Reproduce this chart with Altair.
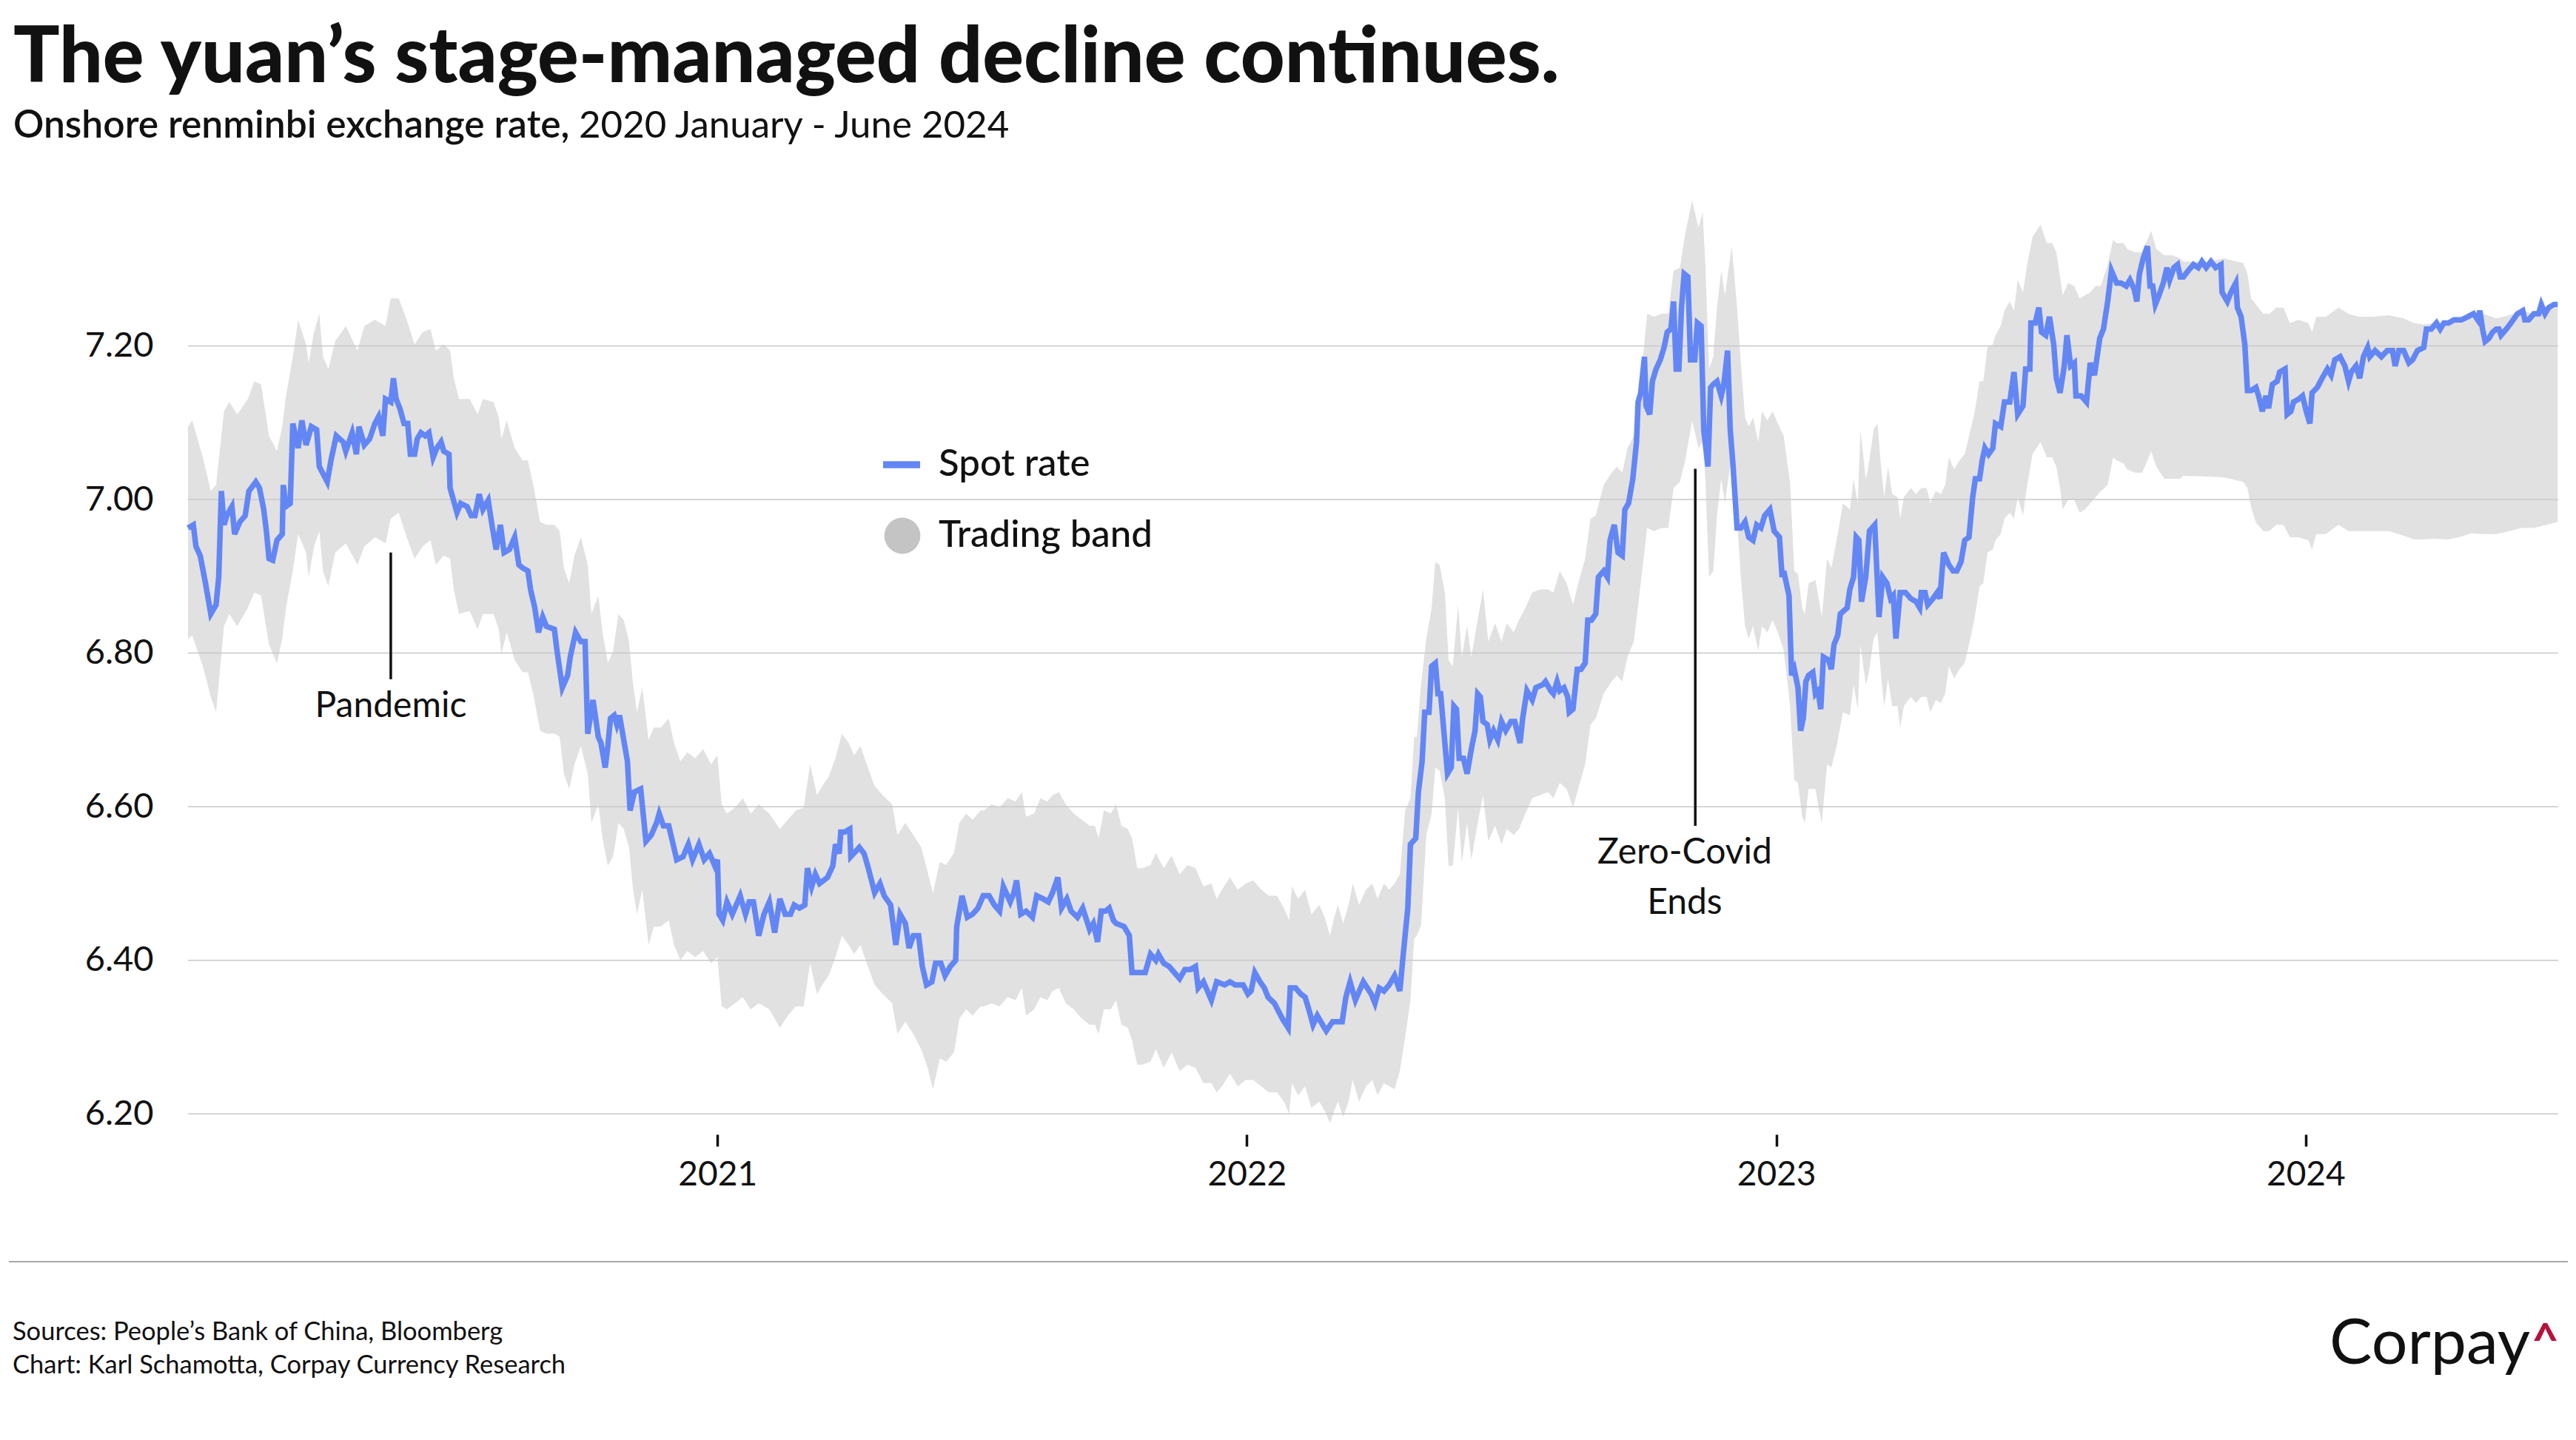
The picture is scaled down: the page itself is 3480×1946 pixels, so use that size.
import altair as alt
import pandas as pd

# ---------------- data ----------------
# Onshore spot rate (x in decimal years)
spot_year = [
    2020.000, 2020.010, 2020.015, 2020.023, 2020.033, 2020.043, 2020.053, 2020.058, 2020.063, 2020.068,
    2020.073, 2020.083, 2020.088, 2020.098, 2020.108, 2020.115, 2020.128, 2020.135, 2020.143, 2020.148,
    2020.153, 2020.160, 2020.168, 2020.178, 2020.180, 2020.185, 2020.193, 2020.198, 2020.208, 2020.215,
    2020.223, 2020.233, 2020.243, 2020.248, 2020.263, 2020.270, 2020.280, 2020.293, 2020.298, 2020.310,
    2020.318, 2020.323, 2020.333, 2020.343, 2020.353, 2020.360, 2020.368, 2020.373, 2020.383, 2020.388,
    2020.393, 2020.400, 2020.408, 2020.415, 2020.420, 2020.428, 2020.433, 2020.440, 2020.448, 2020.455,
    2020.463, 2020.470, 2020.478, 2020.483, 2020.493, 2020.495, 2020.508, 2020.515, 2020.527, 2020.535,
    2020.542, 2020.550, 2020.557, 2020.567, 2020.575, 2020.582, 2020.590, 2020.597, 2020.607, 2020.617,
    2020.625, 2020.632, 2020.642, 2020.647, 2020.655, 2020.662, 2020.670, 2020.677, 2020.692, 2020.697,
    2020.707, 2020.717, 2020.722, 2020.732, 2020.742, 2020.750, 2020.755, 2020.765, 2020.775,
    2020.780, 2020.788, 2020.793, 2020.798, 2020.805, 2020.810, 2020.815, 2020.823, 2020.830, 2020.835,
    2020.843, 2020.855, 2020.865, 2020.875, 2020.885, 2020.890, 2020.898, 2020.908, 2020.915, 2020.923,
    2020.935, 2020.945, 2020.953, 2020.965, 2020.975, 2020.985, 2020.995, 2021.000, 2021.003, 2021.010,
    2021.018, 2021.028, 2021.043, 2021.053, 2021.060, 2021.068, 2021.078, 2021.088, 2021.098, 2021.108,
    2021.118, 2021.128, 2021.138, 2021.145, 2021.155, 2021.165, 2021.170, 2021.178, 2021.185, 2021.193,
    2021.208, 2021.218, 2021.223, 2021.230, 2021.233, 2021.240, 2021.250, 2021.252, 2021.268, 2021.277,
    2021.285, 2021.297, 2021.307, 2021.315, 2021.327, 2021.337, 2021.345, 2021.355, 2021.362, 2021.370,
    2021.380, 2021.387, 2021.395, 2021.405, 2021.412, 2021.422, 2021.430, 2021.440, 2021.450, 2021.452,
    2021.462, 2021.472, 2021.482, 2021.492, 2021.502,
    2021.513, 2021.523, 2021.533, 2021.540, 2021.553, 2021.560, 2021.565, 2021.573, 2021.583, 2021.595,
    2021.603, 2021.615, 2021.625, 2021.633, 2021.643, 2021.650, 2021.660, 2021.668, 2021.680, 2021.690,
    2021.703, 2021.710, 2021.718, 2021.725, 2021.733, 2021.740, 2021.748, 2021.753, 2021.768, 2021.778,
    2021.783, 2021.795, 2021.808, 2021.818, 2021.828, 2021.833, 2021.843, 2021.853, 2021.863, 2021.873,
    2021.883, 2021.893, 2021.903, 2021.908, 2021.918, 2021.933, 2021.943, 2021.958, 2021.968, 2021.978,
    2021.993, 2022.002, 2022.008, 2022.015, 2022.025, 2022.033, 2022.040, 2022.052, 2022.067, 2022.078,
    2022.082, 2022.092, 2022.102, 2022.110, 2022.117, 2022.125, 2022.133, 2022.143, 2022.150, 2022.162,
    2022.180, 2022.187, 2022.195, 2022.205, 2022.220, 2022.235, 2022.242, 2022.250,
    2022.259, 2022.269, 2022.279, 2022.289, 2022.296, 2022.304, 2022.309, 2022.319, 2022.324, 2022.331,
    2022.336, 2022.344, 2022.349, 2022.356, 2022.361, 2022.366, 2022.371, 2022.379, 2022.386, 2022.391,
    2022.396, 2022.401, 2022.409, 2022.416, 2022.424, 2022.431, 2022.436, 2022.441, 2022.446, 2022.454,
    2022.459, 2022.466, 2022.474, 2022.481, 2022.489, 2022.499, 2022.506, 2022.516, 2022.521, 2022.529,
    2022.539, 2022.546, 2022.559, 2022.564, 2022.574, 2022.579, 2022.586, 2022.591, 2022.599, 2022.606,
    2022.609, 2022.616, 2022.624, 2022.631, 2022.639, 2022.644, 2022.651, 2022.659, 2022.664, 2022.674,
    2022.681, 2022.686, 2022.694, 2022.701, 2022.709, 2022.714, 2022.721, 2022.729, 2022.736, 2022.739,
    2022.744, 2022.751, 2022.754, 2022.761, 2022.766, 2022.773, 2022.781, 2022.788, 2022.794, 2022.801,
    2022.806, 2022.811, 2022.816, 2022.821, 2022.826, 2022.833, 2022.838, 2022.846, 2022.851, 2022.858,
    2022.863, 2022.871, 2022.876, 2022.881, 2022.888, 2022.896, 2022.901, 2022.908, 2022.913, 2022.918,
    2022.926, 2022.933, 2022.941, 2022.948, 2022.956, 2022.963, 2022.971, 2022.978, 2022.988, 2022.996,
    2023.006, 2023.011,
    2023.014, 2023.024, 2023.029, 2023.034, 2023.041, 2023.046, 2023.051, 2023.056, 2023.061, 2023.069,
    2023.074, 2023.079, 2023.084, 2023.089, 2023.099, 2023.104, 2023.109, 2023.116, 2023.121, 2023.134,
    2023.139, 2023.146, 2023.151, 2023.156, 2023.161, 2023.169, 2023.176, 2023.186, 2023.194, 2023.201,
    2023.209, 2023.216, 2023.221, 2023.226, 2023.234, 2023.244, 2023.254, 2023.264, 2023.271, 2023.274,
    2023.281, 2023.286, 2023.296, 2023.304, 2023.309, 2023.316, 2023.326, 2023.334, 2023.341, 2023.349,
    2023.356, 2023.364, 2023.371, 2023.376, 2023.384, 2023.389, 2023.394, 2023.401, 2023.409, 2023.414,
    2023.424, 2023.431, 2023.441, 2023.449, 2023.456, 2023.466, 2023.471, 2023.479, 2023.481, 2023.489,
    2023.496, 2023.501, 2023.509, 2023.516, 2023.524, 2023.529, 2023.536, 2023.544, 2023.549, 2023.556,
    2023.563, 2023.566, 2023.576, 2023.586, 2023.593, 2023.601, 2023.611, 2023.618, 2023.626, 2023.633,
    2023.643, 2023.651, 2023.661, 2023.668, 2023.676, 2023.681, 2023.686, 2023.693, 2023.701, 2023.706,
    2023.711, 2023.716, 2023.723, 2023.731, 2023.738, 2023.743, 2023.751, 2023.758, 2023.763,
    2023.769, 2023.778, 2023.788, 2023.797, 2023.804, 2023.812, 2023.821, 2023.830, 2023.840, 2023.842,
    2023.852, 2023.859, 2023.868, 2023.871, 2023.878, 2023.885, 2023.890, 2023.897, 2023.906, 2023.911,
    2023.918, 2023.925, 2023.930, 2023.937, 2023.946, 2023.951, 2023.961, 2023.965, 2023.972, 2023.977,
    2023.987, 2023.994, 2024.001, 2024.008, 2024.012, 2024.022, 2024.031, 2024.041, 2024.048, 2024.055,
    2024.065, 2024.074, 2024.081, 2024.086, 2024.095, 2024.102, 2024.109, 2024.117, 2024.121, 2024.131,
    2024.143, 2024.154, 2024.164, 2024.169, 2024.176, 2024.185, 2024.195, 2024.202, 2024.211, 2024.223,
    2024.228, 2024.237, 2024.247, 2024.254, 2024.261, 2024.270, 2024.280, 2024.294, 2024.306, 2024.317,
    2024.325, 2024.329, 2024.334, 2024.339, 2024.346, 2024.353, 2024.360, 2024.365, 2024.369, 2024.379,
    2024.388, 2024.400, 2024.410, 2024.414, 2024.421, 2024.431, 2024.440, 2024.445, 2024.452, 2024.459,
    2024.469, 2024.476,
]
spot_rate = [
    6.963, 6.967, 6.939, 6.927, 6.891, 6.851, 6.863, 6.899, 7.011, 6.967,
    6.979, 6.991, 6.955, 6.971, 6.979, 7.011, 7.023, 7.015, 6.987, 6.959,
    6.923, 6.921, 6.947, 6.955, 7.019, 6.991, 6.995, 7.099, 7.067, 7.103,
    7.071, 7.095, 7.091, 7.043, 7.023, 7.051, 7.083, 7.075, 7.063, 7.087,
    7.059, 7.095, 7.071, 7.079, 7.099, 7.108, 7.083, 7.131, 7.127, 7.158,
    7.131, 7.119, 7.099, 7.099, 7.059, 7.059, 7.079, 7.087, 7.083, 7.087,
    7.055, 7.067, 7.075, 7.063, 7.059, 7.015, 6.983, 6.995, 6.991, 6.979,
    6.979, 7.007, 6.987, 6.999, 6.963, 6.935, 6.967, 6.931, 6.935, 6.951,
    6.915, 6.911, 6.907, 6.883, 6.859, 6.827, 6.847, 6.835, 6.831, 6.803,
    6.755, 6.771, 6.795, 6.827, 6.815, 6.815, 6.695, 6.739, 6.691,
    6.683, 6.651, 6.679, 6.715, 6.719, 6.707, 6.719, 6.687, 6.659, 6.595,
    6.619, 6.623, 6.555, 6.563, 6.579, 6.591, 6.575, 6.575, 6.555, 6.531,
    6.535, 6.551, 6.531, 6.551, 6.531, 6.539, 6.523, 6.531, 6.460, 6.452,
    6.476, 6.460, 6.484, 6.460, 6.476, 6.476, 6.432, 6.460, 6.476, 6.436,
    6.480, 6.460, 6.460, 6.472, 6.468, 6.472, 6.520, 6.496, 6.512, 6.500,
    6.508, 6.523, 6.551, 6.539, 6.567, 6.567, 6.571, 6.535, 6.547, 6.539,
    6.520, 6.488, 6.500, 6.484, 6.472, 6.420, 6.460, 6.448, 6.416, 6.432,
    6.432, 6.392, 6.368, 6.372, 6.396, 6.396, 6.380, 6.392, 6.400, 6.444,
    6.484, 6.456, 6.460, 6.468, 6.484,
    6.484, 6.472, 6.464, 6.496, 6.476, 6.488, 6.504, 6.460, 6.464, 6.456,
    6.484, 6.480, 6.476, 6.488, 6.508, 6.468, 6.480, 6.464, 6.456, 6.468,
    6.440, 6.448, 6.424, 6.464, 6.464, 6.468, 6.452, 6.448, 6.444, 6.432,
    6.384, 6.384, 6.384, 6.408, 6.400, 6.408, 6.396, 6.392, 6.384, 6.376,
    6.388, 6.388, 6.392, 6.364, 6.372, 6.348, 6.372, 6.368, 6.372, 6.368,
    6.368, 6.356, 6.360, 6.384, 6.372, 6.364, 6.352, 6.344, 6.324, 6.312,
    6.364, 6.364, 6.356, 6.352, 6.336, 6.316, 6.328, 6.316, 6.308, 6.320,
    6.320, 6.352, 6.372, 6.348, 6.372, 6.356, 6.344, 6.364,
    6.360, 6.368, 6.380, 6.360, 6.412, 6.468, 6.551, 6.559, 6.619, 6.659,
    6.723, 6.723, 6.783, 6.787, 6.747, 6.747, 6.707, 6.643, 6.651, 6.731,
    6.727, 6.663, 6.663, 6.643, 6.675, 6.699, 6.747, 6.743, 6.711, 6.707,
    6.687, 6.699, 6.687, 6.711, 6.699, 6.711, 6.711, 6.683, 6.715, 6.751,
    6.739, 6.755, 6.759, 6.763, 6.751, 6.747, 6.763, 6.751, 6.755, 6.743,
    6.723, 6.727, 6.779, 6.779, 6.787, 6.843, 6.843, 6.851, 6.899, 6.907,
    6.899, 6.947, 6.967, 6.931, 6.927, 6.987, 6.995, 7.027, 7.075, 7.127,
    7.139, 7.186, 7.122, 7.111, 7.154, 7.170, 7.182, 7.198, 7.218, 7.222,
    7.258, 7.170, 7.170, 7.250, 7.294, 7.290, 7.182, 7.182, 7.230, 7.226,
    7.091, 7.043, 7.146, 7.150, 7.154, 7.135, 7.150, 7.194, 7.091, 7.047,
    6.963, 6.963, 6.971, 6.951, 6.947, 6.967, 6.963, 6.979, 6.987, 6.959,
    6.951, 6.899,
    6.907, 6.875, 6.771, 6.779, 6.755, 6.699, 6.715, 6.763, 6.771, 6.775,
    6.747, 6.751, 6.727, 6.795, 6.791, 6.779, 6.811, 6.823, 6.851, 6.859,
    6.883, 6.899, 6.951, 6.947, 6.867, 6.899, 6.959, 6.967, 6.847, 6.899,
    6.891, 6.871, 6.875, 6.819, 6.879, 6.879, 6.871, 6.867, 6.859, 6.879,
    6.879, 6.863, 6.871, 6.879, 6.871, 6.931, 6.915, 6.907, 6.907, 6.919,
    6.947, 6.951, 7.003, 7.027, 7.027, 7.051, 7.067, 7.059, 7.067, 7.099,
    7.095, 7.127, 7.127, 7.166, 7.111, 7.122, 7.170, 7.170, 7.230, 7.230,
    7.250, 7.218, 7.214, 7.238, 7.202, 7.158, 7.139, 7.174, 7.214, 7.174,
    7.178, 7.135, 7.135, 7.127, 7.178, 7.162, 7.210, 7.222, 7.258, 7.298,
    7.282, 7.282, 7.278, 7.286, 7.274, 7.258, 7.294, 7.314, 7.330, 7.278,
    7.278, 7.254, 7.266, 7.282, 7.302, 7.286, 7.302, 7.306, 7.290,
    7.290, 7.298, 7.306, 7.302, 7.310, 7.302, 7.310, 7.302, 7.306, 7.270,
    7.258, 7.270, 7.282, 7.250, 7.238, 7.202, 7.142, 7.142, 7.146, 7.135,
    7.115, 7.135, 7.119, 7.150, 7.154, 7.166, 7.170, 7.111, 7.115, 7.127,
    7.131, 7.135, 7.115, 7.099, 7.139, 7.146, 7.158, 7.170, 7.162, 7.182,
    7.186, 7.174, 7.154, 7.166, 7.174, 7.158, 7.186, 7.198, 7.186, 7.194,
    7.186, 7.194, 7.194, 7.174, 7.194, 7.194, 7.178, 7.182, 7.194, 7.198,
    7.222, 7.222, 7.230, 7.222, 7.230, 7.230, 7.234, 7.234, 7.238, 7.242,
    7.234, 7.246, 7.222, 7.206, 7.210, 7.218, 7.222, 7.222, 7.214, 7.222,
    7.230, 7.242, 7.246, 7.234, 7.234, 7.242, 7.242, 7.254, 7.242, 7.250,
    7.254, 7.254,
]

# Trading band (upper / lower edge)
band_year = [
    2020.000, 2020.008, 2020.028, 2020.043, 2020.053, 2020.068, 2020.078, 2020.093, 2020.113, 2020.125,
    2020.138, 2020.153, 2020.168, 2020.178, 2020.185, 2020.198, 2020.208, 2020.223, 2020.228, 2020.238,
    2020.248, 2020.255, 2020.265, 2020.278, 2020.298, 2020.320, 2020.333, 2020.353, 2020.373, 2020.383,
    2020.398, 2020.413, 2020.428, 2020.443, 2020.458, 2020.468, 2020.483, 2020.495, 2020.502, 2020.512,
    2020.532, 2020.547, 2020.557, 2020.577, 2020.587, 2020.592, 2020.602, 2020.617, 2020.632, 2020.642,
    2020.652, 2020.665, 2020.677, 2020.692, 2020.702, 2020.710, 2020.720, 2020.730, 2020.742, 2020.755,
    2020.762, 2020.775,
    2020.783, 2020.793, 2020.803, 2020.813, 2020.823, 2020.833, 2020.840, 2020.848, 2020.858, 2020.870,
    2020.880, 2020.893, 2020.908, 2020.918, 2020.930, 2020.943, 2020.958, 2020.973, 2020.988, 2021.000,
    2021.008, 2021.018, 2021.033, 2021.048, 2021.063, 2021.078, 2021.098, 2021.118, 2021.133, 2021.148,
    2021.163, 2021.175, 2021.188, 2021.198, 2021.210, 2021.223, 2021.235, 2021.248, 2021.258, 2021.270,
    2021.282, 2021.297, 2021.312, 2021.330, 2021.340, 2021.355, 2021.370, 2021.385, 2021.397, 2021.407,
    2021.420, 2021.432, 2021.447, 2021.457, 2021.470, 2021.482, 2021.497,
    2021.503, 2021.518, 2021.533, 2021.548, 2021.563, 2021.575, 2021.583, 2021.598, 2021.610, 2021.623,
    2021.633, 2021.645, 2021.658, 2021.673, 2021.688, 2021.703, 2021.713, 2021.720, 2021.730, 2021.743,
    2021.753, 2021.763, 2021.775, 2021.783, 2021.793, 2021.803, 2021.818, 2021.828, 2021.843, 2021.858,
    2021.873, 2021.888, 2021.903, 2021.918, 2021.933, 2021.943, 2021.953, 2021.968, 2021.983, 2021.998,
    2022.012, 2022.027, 2022.042, 2022.057, 2022.070, 2022.080, 2022.085, 2022.097, 2022.110, 2022.122,
    2022.137, 2022.147, 2022.157, 2022.165, 2022.172, 2022.182, 2022.192, 2022.200, 2022.212, 2022.225,
    2022.237, 2022.247,
    2022.259, 2022.269, 2022.279, 2022.289, 2022.299, 2022.309, 2022.316, 2022.321, 2022.329, 2022.339,
    2022.349, 2022.356, 2022.364, 2022.374, 2022.381, 2022.389, 2022.399, 2022.406, 2022.416, 2022.424,
    2022.434, 2022.446, 2022.456, 2022.469, 2022.481, 2022.491, 2022.504, 2022.514, 2022.526, 2022.539,
    2022.554, 2022.569, 2022.579, 2022.591, 2022.604, 2022.616, 2022.629, 2022.639, 2022.649, 2022.659,
    2022.674, 2022.689, 2022.699, 2022.709, 2022.719, 2022.731, 2022.744, 2022.756, 2022.769, 2022.783,
    2022.796, 2022.806, 2022.818, 2022.828, 2022.841, 2022.853, 2022.861, 2022.866, 2022.873, 2022.881,
    2022.888, 2022.896, 2022.903, 2022.916, 2022.926, 2022.933, 2022.941, 2022.948, 2022.956, 2022.966,
    2022.973, 2022.983, 2022.993, 2023.003,
    2023.014, 2023.021, 2023.026, 2023.034, 2023.041, 2023.049, 2023.054, 2023.061, 2023.074, 2023.081,
    2023.086, 2023.096, 2023.104, 2023.114, 2023.126, 2023.139, 2023.146, 2023.154, 2023.159, 2023.169,
    2023.174, 2023.184, 2023.191, 2023.199, 2023.204, 2023.211, 2023.219, 2023.229, 2023.234, 2023.241,
    2023.254, 2023.264, 2023.274, 2023.284, 2023.291, 2023.301, 2023.311, 2023.319, 2023.326, 2023.336,
    2023.346, 2023.356, 2023.364, 2023.374, 2023.384, 2023.391, 2023.399, 2023.409, 2023.414, 2023.424,
    2023.431, 2023.441, 2023.449, 2023.456, 2023.466, 2023.474, 2023.484, 2023.499, 2023.511, 2023.521,
    2023.529, 2023.536, 2023.541, 2023.551, 2023.563, 2023.573, 2023.583, 2023.593, 2023.603, 2023.613,
    2023.626, 2023.636, 2023.643, 2023.656, 2023.663, 2023.678, 2023.691, 2023.701, 2023.708, 2023.718,
    2023.733, 2023.748, 2023.763,
    2023.769, 2023.816, 2023.845, 2023.882, 2023.890, 2023.897, 2023.906, 2023.920, 2023.932, 2023.944,
    2023.958, 2023.970, 2023.986, 2024.005, 2024.012, 2024.020, 2024.038, 2024.062, 2024.081, 2024.100,
    2024.128, 2024.157, 2024.185, 2024.204, 2024.223, 2024.242, 2024.270, 2024.289, 2024.313, 2024.336,
    2024.360, 2024.384, 2024.407, 2024.431, 2024.455, 2024.476,
]
band_upper = [
    7.095, 7.103, 7.055, 7.011, 7.019, 7.115, 7.127, 7.111, 7.131, 7.154,
    7.150, 7.083, 7.063, 7.095, 7.135, 7.186, 7.234, 7.202, 7.178, 7.218,
    7.242, 7.186, 7.170, 7.206, 7.226, 7.194, 7.226, 7.234, 7.226, 7.262,
    7.262, 7.234, 7.202, 7.218, 7.222, 7.194, 7.202, 7.194, 7.158, 7.131,
    7.131, 7.111, 7.131, 7.127, 7.107, 7.079, 7.103, 7.067, 7.051, 7.051,
    7.019, 6.971, 6.967, 6.967, 6.959, 6.911, 6.891, 6.927, 6.951, 6.915,
    6.851, 6.875,
    6.827, 6.787, 6.803, 6.851, 6.843, 6.815, 6.763, 6.723, 6.755, 6.687,
    6.703, 6.703, 6.715, 6.683, 6.659, 6.671, 6.663, 6.675, 6.655, 6.667,
    6.603, 6.591, 6.599, 6.611, 6.591, 6.603, 6.591, 6.571, 6.583, 6.595,
    6.599, 6.655, 6.615, 6.627, 6.639, 6.663, 6.695, 6.683, 6.667, 6.679,
    6.655, 6.627, 6.615, 6.603, 6.563, 6.579, 6.563, 6.547, 6.515, 6.488,
    6.528, 6.524, 6.540, 6.579, 6.591, 6.583, 6.595,
    6.595, 6.603, 6.599, 6.611, 6.607, 6.619, 6.587, 6.591, 6.611, 6.607,
    6.615, 6.619, 6.603, 6.591, 6.583, 6.575, 6.575, 6.559, 6.595, 6.591,
    6.603, 6.575, 6.571, 6.559, 6.520, 6.520, 6.524, 6.540, 6.520, 6.536,
    6.512, 6.524, 6.520, 6.496, 6.500, 6.480, 6.492, 6.508, 6.492, 6.500,
    6.504, 6.492, 6.484, 6.484, 6.468, 6.452, 6.496, 6.480, 6.492, 6.460,
    6.472, 6.456, 6.432, 6.456, 6.472, 6.448, 6.472, 6.500, 6.472, 6.492,
    6.500, 6.480,
    6.500, 6.492, 6.500, 6.512, 6.595, 6.611, 6.691, 6.691, 6.760, 6.819,
    6.859, 6.919, 6.915, 6.879, 6.791, 6.783, 6.863, 6.795, 6.835, 6.795,
    6.835, 6.883, 6.815, 6.839, 6.815, 6.839, 6.827, 6.843, 6.859, 6.879,
    6.883, 6.883, 6.879, 6.907, 6.891, 6.863, 6.899, 6.923, 6.975, 6.979,
    7.019, 7.035, 7.043, 7.035, 7.067, 7.083, 7.154, 7.242, 7.238, 7.242,
    7.242, 7.298, 7.302, 7.346, 7.390, 7.354, 7.374, 7.306, 7.170, 7.186,
    7.250, 7.298, 7.266, 7.330, 7.250, 7.178, 7.107, 7.095, 7.107, 7.075,
    7.115, 7.103, 7.115, 7.099,
    7.083, 7.047, 7.023, 6.907, 6.903, 6.859, 6.851, 6.891, 6.895, 6.867,
    6.847, 6.923, 6.911, 6.947, 6.995, 6.987, 7.027, 6.995, 7.091, 7.027,
    7.043, 7.091, 7.099, 7.035, 7.003, 7.043, 7.007, 7.003, 6.975, 7.003,
    7.015, 7.007, 7.015, 7.015, 6.995, 7.011, 7.007, 7.019, 7.055, 7.039,
    7.051, 7.059, 7.083, 7.111, 7.154, 7.154, 7.198, 7.202, 7.214, 7.226,
    7.246, 7.258, 7.246, 7.286, 7.270, 7.306, 7.342, 7.358, 7.334, 7.334,
    7.322, 7.290, 7.266, 7.282, 7.278, 7.262, 7.266, 7.270, 7.278, 7.278,
    7.306, 7.338, 7.334, 7.334, 7.326, 7.322, 7.322, 7.338, 7.350, 7.326,
    7.318, 7.318, 7.314,
    7.310, 7.310, 7.314, 7.308, 7.294, 7.262, 7.254, 7.242, 7.242, 7.250,
    7.250, 7.230, 7.234, 7.230, 7.218, 7.238, 7.238, 7.250, 7.242, 7.238,
    7.238, 7.240, 7.236, 7.230, 7.228, 7.230, 7.230, 7.233, 7.242, 7.242,
    7.236, 7.240, 7.246, 7.242, 7.246, 7.250,
]
band_lower = [
    6.819, 6.823, 6.783, 6.743, 6.723, 6.835, 6.851, 6.835, 6.859, 6.879,
    6.875, 6.811, 6.787, 6.819, 6.859, 6.907, 6.955, 6.931, 6.899, 6.939,
    6.959, 6.907, 6.887, 6.931, 6.943, 6.915, 6.939, 6.951, 6.943, 6.975,
    6.983, 6.951, 6.923, 6.939, 6.947, 6.915, 6.927, 6.923, 6.883, 6.851,
    6.855, 6.831, 6.851, 6.851, 6.831, 6.799, 6.827, 6.791, 6.775, 6.775,
    6.747, 6.699, 6.695, 6.695, 6.691, 6.643, 6.623, 6.655, 6.679, 6.643,
    6.579, 6.603,
    6.559, 6.523, 6.535, 6.579, 6.571, 6.547, 6.496, 6.460, 6.492, 6.420,
    6.444, 6.444, 6.452, 6.420, 6.400, 6.412, 6.404, 6.412, 6.396, 6.404,
    6.340, 6.336, 6.344, 6.352, 6.336, 6.344, 6.336, 6.312, 6.328, 6.340,
    6.340, 6.396, 6.356, 6.368, 6.380, 6.404, 6.432, 6.420, 6.408, 6.420,
    6.396, 6.368, 6.356, 6.344, 6.304, 6.320, 6.304, 6.284, 6.260, 6.232,
    6.272, 6.268, 6.280, 6.324, 6.336, 6.328, 6.340,
    6.340, 6.344, 6.340, 6.352, 6.348, 6.364, 6.328, 6.336, 6.352, 6.348,
    6.360, 6.364, 6.344, 6.336, 6.324, 6.316, 6.316, 6.304, 6.336, 6.336,
    6.348, 6.316, 6.312, 6.296, 6.264, 6.264, 6.268, 6.284, 6.260, 6.280,
    6.256, 6.264, 6.260, 6.240, 6.240, 6.228, 6.236, 6.252, 6.236, 6.244,
    6.244, 6.236, 6.228, 6.228, 6.216, 6.200, 6.240, 6.224, 6.236, 6.208,
    6.216, 6.204, 6.188, 6.204, 6.216, 6.196, 6.216, 6.244, 6.216, 6.236,
    6.244, 6.224,
    6.240, 6.236, 6.232, 6.256, 6.300, 6.348, 6.428, 6.432, 6.445, 6.563,
    6.591, 6.651, 6.647, 6.611, 6.523, 6.523, 6.599, 6.527, 6.579, 6.531,
    6.571, 6.615, 6.555, 6.575, 6.551, 6.571, 6.563, 6.571, 6.591, 6.611,
    6.615, 6.619, 6.611, 6.631, 6.623, 6.599, 6.631, 6.655, 6.707, 6.715,
    6.747, 6.763, 6.771, 6.763, 6.795, 6.815, 6.891, 6.963, 6.959, 6.963,
    6.963, 7.015, 7.023, 7.051, 7.103, 7.067, 7.075, 7.027, 6.899, 6.907,
    6.979, 7.027, 6.995, 7.059, 6.975, 6.899, 6.835, 6.819, 6.835, 6.803,
    6.835, 6.827, 6.843, 6.827,
    6.803, 6.763, 6.731, 6.635, 6.631, 6.587, 6.579, 6.623, 6.623, 6.595,
    6.579, 6.655, 6.651, 6.679, 6.723, 6.719, 6.759, 6.727, 6.811, 6.759,
    6.771, 6.819, 6.827, 6.763, 6.731, 6.767, 6.731, 6.731, 6.703, 6.731,
    6.743, 6.735, 6.743, 6.743, 6.723, 6.739, 6.735, 6.747, 6.783, 6.767,
    6.779, 6.787, 6.811, 6.843, 6.887, 6.891, 6.931, 6.935, 6.947, 6.955,
    6.975, 6.983, 6.975, 7.003, 6.979, 7.019, 7.059, 7.075, 7.055, 7.055,
    7.043, 7.015, 6.987, 6.999, 6.999, 6.983, 6.987, 6.995, 7.003, 7.011,
    7.019, 7.055, 7.051, 7.047, 7.039, 7.035, 7.035, 7.051, 7.063, 7.043,
    7.027, 7.027, 7.027,
    7.031, 7.030, 7.029, 7.023, 7.015, 6.990, 6.970, 6.959, 6.959, 6.967,
    6.967, 6.951, 6.951, 6.947, 6.935, 6.955, 6.955, 6.967, 6.959, 6.959,
    6.959, 6.959, 6.953, 6.948, 6.948, 6.949, 6.948, 6.951, 6.956, 6.955,
    6.955, 6.959, 6.963, 6.963, 6.967, 6.971,
]

# axis ticks
year_ticks = [2021, 2022, 2023, 2024]
rate_ticks = [6.2, 6.4, 6.6, 6.8, 7.0, 7.2]

# annotations
ann_year = [2020.383, 2022.847]
ann_top = [6.931, 7.040]
ann_bottom = [6.766, 6.575]
label_text = ["Pandemic", "Zero-Covid", "Ends"]
label_year = [2020.383, 2022.827, 2022.827]
label_rate = [6.730, 6.539, 6.474]

# ---------------- chart ----------------
INK = "#111111"
BLUE = "#6386f5"
FONT = "Lato"
W, H = 3202, 1266

xs = alt.Scale(domain=[2020.0, 2024.477], nice=False, zero=False)
ys = alt.Scale(domain=[6.18, 7.40], nice=False, zero=False)

spot_df = pd.DataFrame({"year": spot_year, "rate": spot_rate})
band_df = pd.DataFrame({"year": band_year, "upper": band_upper, "lower": band_lower})
grid_df = pd.DataFrame({"level": rate_ticks})
ann_df = pd.DataFrame({"year": ann_year, "top": ann_top, "bottom": ann_bottom})
lab_df = pd.DataFrame({"year": label_year, "rate": label_rate, "label": label_text})
one = alt.InlineData(values=[{}])

x_axis = alt.Axis(values=year_ticks, format="d", title=None, grid=False, domain=False,
                  ticks=True, tickSize=16, tickWidth=3.5, tickColor=INK, offset=7,
                  labelFont=FONT, labelFontSize=46, labelColor=INK, labelPadding=16)
y_axis = alt.Axis(values=rate_ticks, format=".2f", title=None, grid=False, domain=False,
                  ticks=False, tickSize=0, labelFont=FONT, labelFontSize=47, labelColor=INK,
                  labelPadding=47)


def X(field):
    return alt.X(field, scale=xs, axis=x_axis, title=None)


def Y(field):
    return alt.Y(field, scale=ys, axis=y_axis, title=None)


band = alt.Chart(band_df).mark_area(color="#e1e1e1").encode(
    x=X("year:Q"), y=Y("upper:Q"), y2="lower:Q",
)
grid = alt.Chart(grid_df).mark_rule(color="#c8c8c8", strokeWidth=1.5).encode(
    y=Y("level:Q")
)
line = alt.Chart(spot_df).mark_line(color=BLUE, strokeWidth=7.5).encode(
    x=X("year:Q"), y=Y("rate:Q"),
)
ann_rule = alt.Chart(ann_df).mark_rule(color=INK, strokeWidth=3.5).encode(
    x=X("year:Q"), y=Y("top:Q"), y2="bottom:Q",
)
ann_text = alt.Chart(lab_df).mark_text(font=FONT, fontSize=48, color=INK,
                                       align="center", baseline="middle").encode(
    x=X("year:Q"), y=Y("rate:Q"), text="label:N",
)

# legend
leg_line = alt.Chart(one).mark_rule(color=BLUE, strokeWidth=9.5).encode(
    x=alt.value(939), x2=alt.value(989), y=alt.value(368))
leg_dot = alt.Chart(one).mark_point(filled=True, shape="circle", size=2376,
                                    color="#c4c4c4", opacity=1).encode(
    x=alt.value(965), y=alt.value(464))


def txt(text, x, y, size, weight=400, align="left", color=INK, baseline="alphabetic"):
    return alt.Chart(one).mark_text(text=text, font=FONT, fontSize=size, fontWeight=weight,
                                    align=align, baseline=baseline, color=color).encode(
        x=alt.value(x), y=alt.value(y))


leg_t1 = txt("Spot rate", 1014, 368, 51, 500, baseline="middle")
leg_t2 = txt("Trading band", 1014, 464, 51, 500, baseline="middle")

title = txt("The yuan’s stage-managed decline continues.", -236, -149, 104, 900)
sub1 = txt("Onshore renminbi exchange rate,", -236, -74, 51.5, 600)
sub2 = txt("2020 January - June 2024", 528, -74, 51, 400)

foot_rule = alt.Chart(one).mark_rule(color="#a8a8a8", strokeWidth=2).encode(
    x=alt.value(-242), x2=alt.value(3215), y=alt.value(1445))
foot1 = txt("Sources: People’s Bank of China, Bloomberg", -237, 1551, 34.5)
foot2 = txt("Chart: Karl Schamotta, Corpay Currency Research", -237, 1596, 34.5)
logo = txt("Corpay", 3164, 1583, 86, 400, align="right")
caret = txt("^", 3166, 1574, 64, 700, color="#b5123c")

chart = alt.layer(
    band, grid, line, ann_rule, ann_text,
    leg_line, leg_dot, leg_t1, leg_t2,
    title, sub1, sub2, foot_rule, foot1, foot2, logo, caret,
).properties(
    width=W, height=H,
    autosize=alt.AutoSizeParams(type="none"),
    padding={"left": 246, "top": 252, "right": 16, "bottom": 412},
    background="white",
).configure_view(stroke=None)

chart.save("out.html", embed_options={"renderer": "svg", "actions": False})
